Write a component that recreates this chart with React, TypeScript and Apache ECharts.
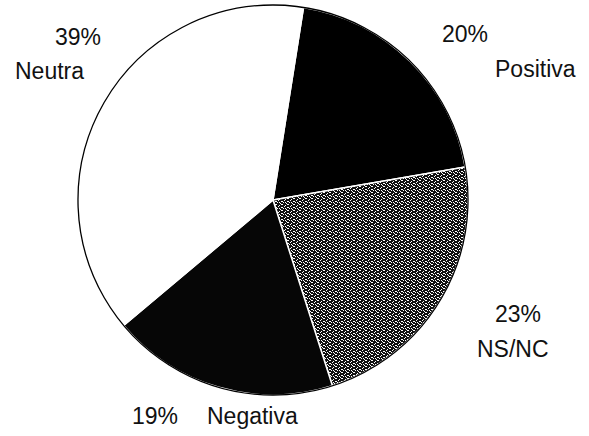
import React, { useEffect, useRef } from "react";
import * as echarts from "echarts";

const categories = ["Positiva", "NS/NC", "Negativa", "Neutra"];
const values = [20, 23, 19, 39];

// label placement (layout only)
const pctPos = [
  [442, 34],
  [495, 314],
  [132, 416],
  [55, 37],
];
const namePos = [
  [495, 69],
  [477, 349],
  [207, 416],
  [15, 71],
];

function makeStipple(): string {
  const c = document.createElement("canvas");
  c.width = 6;
  c.height = 6;
  const ctx = c.getContext("2d")!;
  ctx.fillStyle = "#111111";
  ctx.fillRect(0, 0, 6, 6);
  ctx.fillStyle = "#ffffff";
  const dots = [
    [0, 0], [3, 1], [5, 3], [1, 4], [4, 5], [2, 2], [5, 0], [0, 3], [3, 4],
  ];
  dots.forEach(([x, y]) => ctx.fillRect(x, y, 1, 1));
  return c.toDataURL();
}

export default function App() {
  const ref = useRef<HTMLDivElement>(null);
  useEffect(() => {
    if (!ref.current) return;
    const chart = echarts.init(ref.current, undefined, { renderer: "svg" });
    const stipple = makeStipple();
    const fills: any[] = [
      "#000000",
      { image: stipple, repeat: "repeat" },
      "#060606",
      "#ffffff",
    ];
    const font = "Liberation Sans, Arial, sans-serif";
    const texts: any[] = [];
    categories.forEach((name, i) => {
      texts.push({
        type: "text",
        x: pctPos[i][0],
        y: pctPos[i][1],
        style: {
          text: values[i] + "%",
          fill: "#111",
          font: `23px ${font}`,
          align: "left",
          verticalAlign: "middle",
        },
      });
      texts.push({
        type: "text",
        x: namePos[i][0],
        y: namePos[i][1],
        style: {
          text: name,
          fill: "#111",
          font: `23px ${font}`,
          align: "left",
          verticalAlign: "middle",
        },
      });
    });
    chart.setOption({
      animation: false,
      backgroundColor: "#ffffff",
      graphic: texts,
      series: [
        {
          type: "pie",
          center: [273, 200],
          radius: [0, 195],
          startAngle: 81,
          clockwise: true,
          silent: true,
          label: { show: false },
          labelLine: { show: false },
          data: categories.map((name, i) => ({
            name,
            value: values[i],
            itemStyle: {
              color: fills[i],
              borderColor: "#ffffff",
              borderWidth: 1.5,
            },
          })),
        },
        {
          type: "pie",
          center: [273, 200],
          radius: [0, 195],
          silent: true,
          label: { show: false },
          labelLine: { show: false },
          itemStyle: { color: "transparent", borderColor: "#000", borderWidth: 1.3 },
          data: [{ name: "outline", value: 1 }],
        },
      ],
    });
    return () => chart.dispose();
  }, []);
  return (
    <div
      ref={ref}
      style={{ position: "fixed", left: 0, top: 0, width: 589, height: 436 }}
    />
  );
}
